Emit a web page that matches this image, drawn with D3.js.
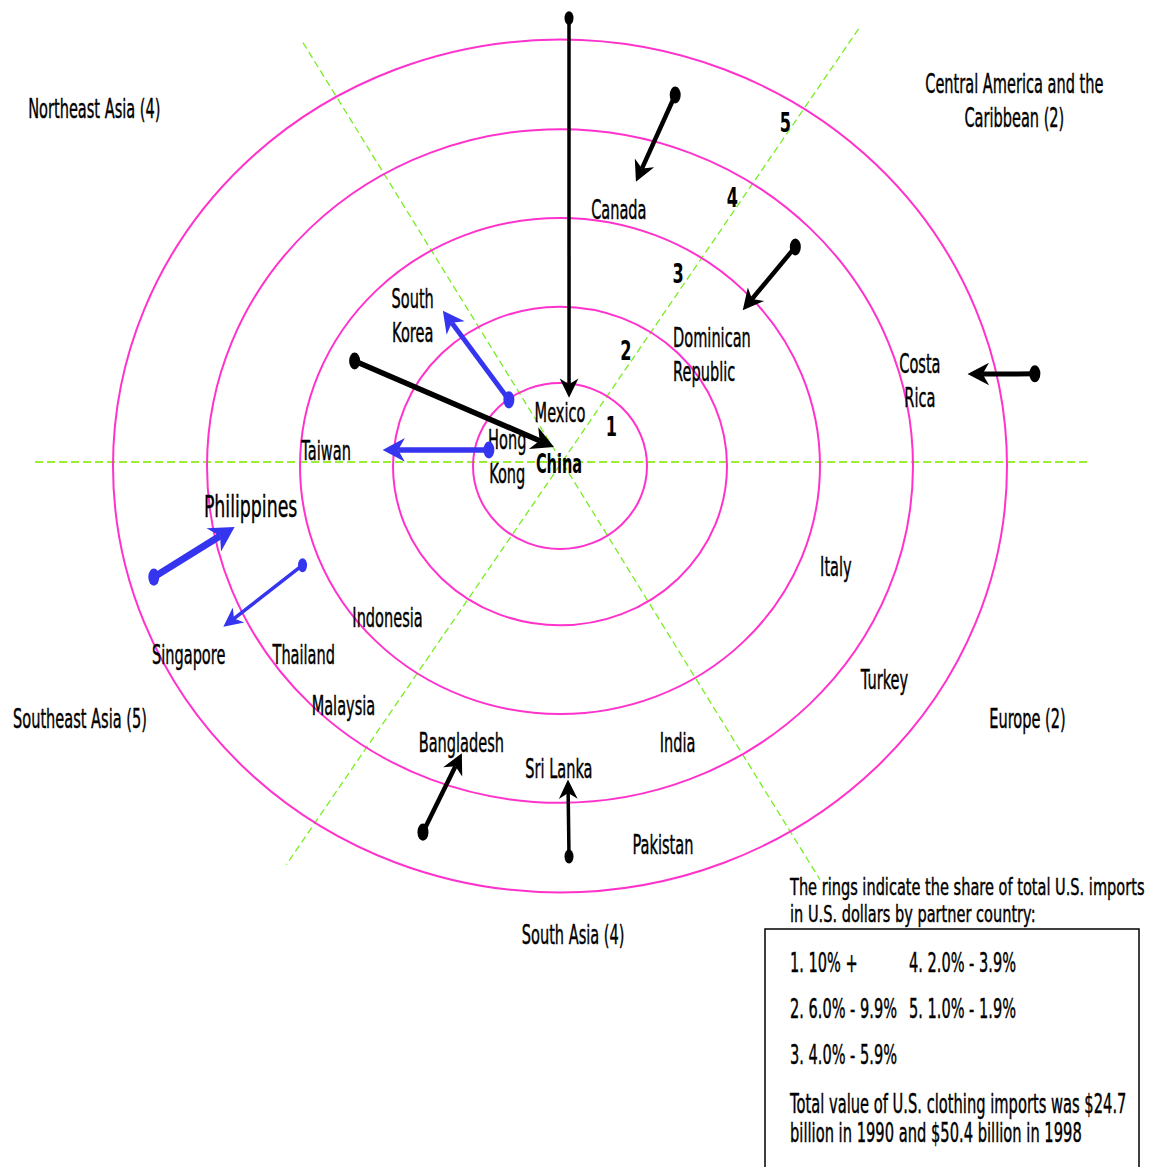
<!DOCTYPE html>
<html><head><meta charset="utf-8">
<script src="https://cdn.jsdelivr.net/npm/d3@7"></script>
<style>html,body{margin:0;padding:0;background:#fff;overflow:hidden}</style>
</head><body><svg id="c" width="1159" height="1167"></svg>
<script>
// ---------------- DATA ----------------
// rings: share of total U.S. clothing imports
const ringLevels = [1, 2, 3, 4, 5];
const ringShares = ["10% +", "6.0% - 9.9%", "4.0% - 5.9%", "2.0% - 3.9%", "1.0% - 1.9%"];

// regions (number of countries), placed by angle (deg, clockwise from top) and ring position
const regions = ["Northeast Asia (4)", "Central America and the\nCaribbean (2)", "Southeast Asia (5)", "Europe (2)", "South Asia (4)"];
const regionAngle = [-51.9, 49.3, -119.8, 120.4, 178.5];
const regionRing = [6.54, 6.62, 6.13, 6.01, 5.58];

// countries: angle and ring position of the label
const countries = ["Mexico", "China", "Hong\nKong", "South\nKorea", "Taiwan", "Canada", "Dominican\nRepublic", "Costa\nRica",
  "Philippines", "Singapore", "Thailand", "Indonesia", "Malaysia", "Bangladesh", "Sri Lanka", "India", "Pakistan", "Italy", "Turkey"];
const countryAngle = [0, -172.2, -71.4, -41.6, -88.5, 12.8, 42.2, 74.9, -99.8, -119.2, -129.0, -134.4, -140.3, -161.8, -179.8, 158.6, 165.8, 112.7, 125.8];
const countryRing = [0.53, 0.085, 0.64, 2.59, 2.72, 3.06, 2.014, 4.21, 3.58, 4.77, 3.75, 2.80, 3.85, 3.60, 3.72, 3.67, 4.71, 3.42, 4.50];

// moves between 1990 (dot) and 1998 (arrow head)
const moves = ["Mexico", "Canada", "Dominican Republic", "Costa Rica", "China", "South Korea", "Hong Kong", "Philippines", "Thailand", "Bangladesh", "Sri Lanka"];
const angle1990 = [1.1, 16.5, 45.7, 78.5, -61.8, -36.4, -76.7, -106.0, -112.0, -160.35, 178.74];
const ring1990 = [5.24, 4.56, 3.74, 5.40, 2.71, 0.99, 0.84, 4.74, 3.19, 4.58, 4.60];
const angle1998 = [7.2, 14.3, 48.2, 76.7, -16.8, -35.75, -84.6, -101.1, -116.6, -161.95, 178.61];
const ring1998 = [0.83, 3.51, 2.84, 4.70, 0.24, 2.36, 2.12, 3.77, 4.25, 3.61, 3.74];

// sector dividers (angles)
const dividerAngles = [-31.7, 34.4, 90];

const legendTitle = ["The rings indicate the share of total U.S. imports", "in U.S. dollars by partner country:"];
const legendNote = ["Total value of U.S. clothing imports was $24.7", "billion in 1990 and $50.4 billion in 1998"];

// ---------------- STYLE / LAYOUT ----------------
const blueSet = new Set(["South Korea", "Hong Kong", "Philippines", "Thailand"]);
const moveWidth = {"Mexico": 3.5, "Canada": 4.5, "Dominican Republic": 4.5, "Costa Rica": 5, "China": 5.5, "South Korea": 5,
  "Hong Kong": 5.5, "Philippines": 7, "Thailand": 3.5, "Bangladesh": 4.5, "Sri Lanka": 3.5};
const labelAnchor = {"Dominican\nRepublic": "start"};
const BLUE = "#3535f0", RING = "#ff33cc";
const CX = 560, CY = 466, K = 0.954;
const DCX = 562, DCY = 462;
const dividerLen = {"-31.7": [493, 491], "34.4": [525, 488], "90": [525, 529]};
const ringLabelPos = {1: [51, 0.76], 2: [28.5, 1.64], 3: [30.3, 2.72], 4: [31.4, 3.76], 5: [32, 4.77]};
const SX = 0.56, FONT = "DejaVu Sans, Verdana, sans-serif";

const svg = d3.select("#c");
const R = d3.scaleLinear().domain([0, 1, 2, 3, 4, 5]).range([0, 87, 167, 260, 353, 447]);
function P(angleDeg, ring) {
  const a = angleDeg * Math.PI / 180, rr = R(ring);
  return [CX + rr * Math.sin(a), CY - rr * K * Math.cos(a)];
}
function txt(x, y, s, opt = {}) {
  const t = svg.append("text")
    .attr("transform", `translate(${x},${y}) scale(${opt.sx || SX},1)`)
    .attr("text-anchor", opt.anchor || "middle")
    .attr("font-family", FONT)
    .attr("font-size", opt.size || 26)
    .attr("font-weight", opt.weight || "normal")
    .attr("fill", "#000")
    .attr("stroke", "#000").attr("stroke-width", opt.weight === "bold" ? 0 : 0.45);
  s.split("\n").forEach((l, i) => t.append("tspan").attr("x", 0).attr("y", i * (opt.lh || 34)).text(l));
  return t;
}

// dividers
dividerAngles.forEach(a => {
  const rad = a * Math.PI / 180, [l1, l2] = dividerLen[String(a)];
  const ux = Math.sin(rad), uy = -Math.cos(rad);
  svg.append("line")
    .attr("x1", DCX + ux * l1).attr("y1", DCY + uy * l1)
    .attr("x2", DCX - ux * l2).attr("y2", DCY - uy * l2)
    .attr("stroke", a === 90 ? "#99ee33" : "#77ee22")
    .attr("stroke-width", a === 90 ? 2 : 1.3)
    .attr("stroke-dasharray", a === 90 ? "8,4" : "7,4");
});

// rings
svg.selectAll("ellipse.ring").data(ringLevels).enter().append("ellipse")
  .attr("class", "ring")
  .attr("cx", CX).attr("cy", CY)
  .attr("rx", d => R(d)).attr("ry", d => R(d) * K)
  .attr("fill", "none").attr("stroke", RING).attr("stroke-width", 2);

// ring numbers
ringLevels.forEach(l => {
  const [x, y] = P(ringLabelPos[l][0], ringLabelPos[l][1]);
  txt(x, y + 10, String(l), {weight: "bold", size: 26, sx: 0.62});
});

// region labels
regions.forEach((r, i) => {
  const [x, y] = P(regionAngle[i], regionRing[i]);
  txt(x, y, r);
});

// country labels
countries.forEach((c, i) => {
  const [x, y] = P(countryAngle[i], countryRing[i]);
  const opt = {anchor: labelAnchor[c] || "middle"};
  if (c === "Philippines") opt.size = 31;
  if (c === "China") opt.weight = "bold";
  txt(x, y, c, opt);
});

// arrows
moves.forEach((m, i) => {
  const [x0, y0] = P(angle1990[i], ring1990[i]);
  const [x1, y1] = P(angle1998[i], ring1998[i]);
  const sw = moveWidth[m], col = blueSet.has(m) ? BLUE : "#000";
  const dx = x1 - x0, dy = y1 - y0, len = Math.hypot(dx, dy), ux = dx / len, uy = dy / len;
  const nx = -uy, ny = ux;
  const L = 14 + sw * 1.5, W = 5 + sw * 1.25, N = L * 0.3;
  svg.append("line").attr("x1", x0).attr("y1", y0)
    .attr("x2", x1 - ux * (L - N)).attr("y2", y1 - uy * (L - N))
    .attr("stroke", col).attr("stroke-width", sw);
  const pts = [[x1, y1], [x1 - ux * L + nx * W, y1 - uy * L + ny * W], [x1 - ux * (L - N), y1 - uy * (L - N)], [x1 - ux * L - nx * W, y1 - uy * L - ny * W]];
  svg.append("path").attr("d", "M" + pts.map(p => p.join(",")).join("L") + "Z").attr("fill", col);
  const rx = sw <= 3.5 ? 4.5 : 5.5;
  svg.append("ellipse").attr("cx", x0).attr("cy", y0).attr("rx", rx).attr("ry", rx * 1.55).attr("fill", col);
});

// legend
legendTitle.forEach((l, i) => txt(790, 895 + i * 27, l, {anchor: "start", size: 23, sx: 0.633}));
svg.append("rect").attr("x", 765).attr("y", 929).attr("width", 374).attr("height", 260)
  .attr("fill", "none").attr("stroke", "#000").attr("stroke-width", 1.5);
ringLevels.forEach((l, i) => {
  const col = i < 3 ? 0 : 1, row = i < 3 ? i : i - 3;
  txt(col ? 909 : 790, 972 + row * 46, `${l}. ${ringShares[i]}`, {anchor: "start"});
});
legendNote.forEach((l, i) => txt(790, 1113 + i * 29, l, {anchor: "start", sx: 0.565}));
</script></body></html>
